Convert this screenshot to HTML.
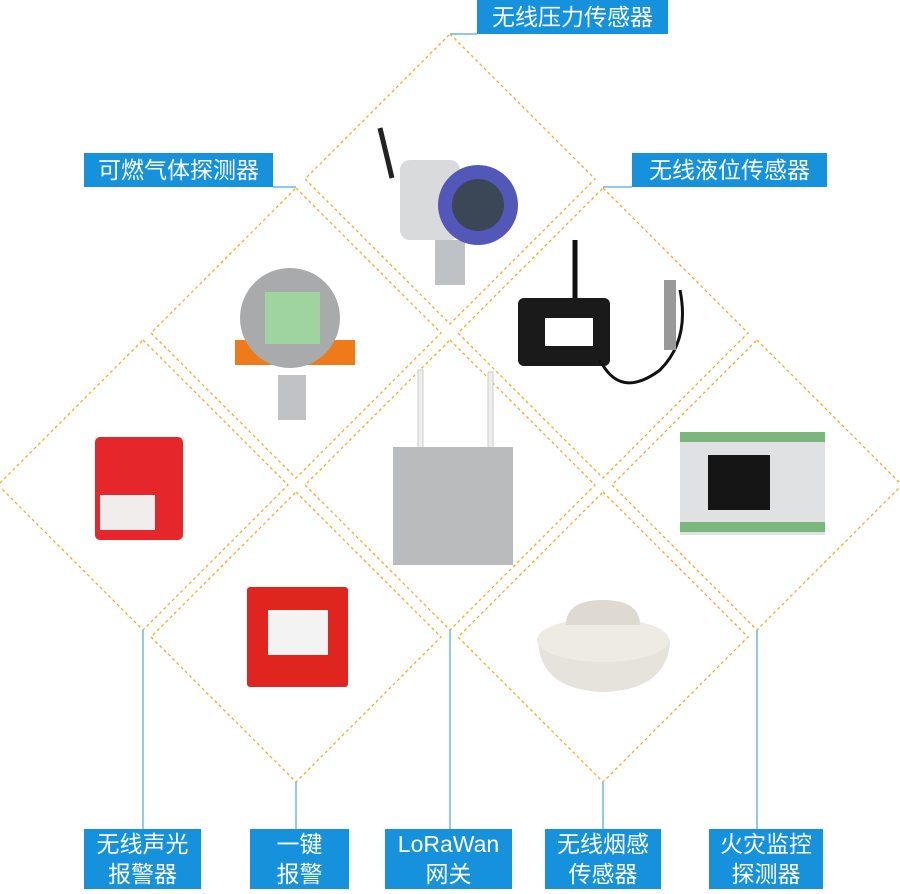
<!DOCTYPE html>
<html><head><meta charset="utf-8"><style>
body{margin:0;background:#fff;}
.l{position:absolute;background:#1592db;color:#fff;font-family:"Liberation Sans","Noto Sans CJK SC",sans-serif;font-size:23px;text-align:center;line-height:30px;}
</style></head><body>
<div style="position:relative;width:900px;height:894px;overflow:hidden">
<svg width="900" height="894" style="position:absolute;left:0;top:0">
<g fill="none" stroke="#f7a92b" stroke-width="1.3" stroke-dasharray="3,3">
<polygon points="450,34 595,179 450,324 305,179"/>
<polygon points="296,188 441,333 296,478 151,333"/>
<polygon points="603,188 748,333 603,478 458,333"/>
<polygon points="143,340 288,485 143,630 -2,485"/>
<polygon points="450,340 595,485 450,630 305,485"/>
<polygon points="757,340 902,485 757,630 612,485"/>
<polygon points="296,492 441,637 296,782 151,637"/>
<polygon points="603,492 748,637 603,782 458,637"/>
</g>
<g stroke="#4aa6e0" stroke-width="1.2">
<line x1="450" y1="34" x2="477" y2="34"/>
<line x1="273" y1="187" x2="296" y2="187"/>
<line x1="603" y1="187" x2="632" y2="187"/>
<line x1="143" y1="630" x2="143" y2="829"/>
<line x1="296" y1="782" x2="296" y2="829"/>
<line x1="450" y1="630" x2="450" y2="829"/>
<line x1="603" y1="782" x2="603" y2="829"/>
<line x1="757" y1="630" x2="757" y2="829"/>
</g>
<!-- pressure sensor -->
<path d="M380 128 L392 178" stroke="#222" stroke-width="5"/>
<rect x="400" y="160" width="60" height="80" rx="10" fill="#d8dadc"/>
<rect x="435" y="240" width="30" height="45" fill="#bfc2c5"/>
<circle cx="478" cy="205" r="40" fill="#5257b8"/><circle cx="478" cy="205" r="26" fill="#3b4657"/>
<!-- gas detector -->
<rect x="235" y="340" width="120" height="25" fill="#ee7a1a"/>
<circle cx="290" cy="318" r="50" fill="#a8aaac"/><rect x="265" y="292" width="55" height="52" fill="#9fd4a0"/>
<rect x="278" y="375" width="28" height="45" fill="#c0c2c4"/>
<!-- liquid -->
<line x1="575" y1="240" x2="575" y2="300" stroke="#111" stroke-width="5"/>
<rect x="518" y="298" width="92" height="68" rx="6" fill="#1a1a1a"/><rect x="545" y="318" width="48" height="28" fill="#fff"/>
<path d="M600 360 Q620 400 660 370 Q690 340 680 290" fill="none" stroke="#111" stroke-width="3"/>
<rect x="664" y="280" width="12" height="70" fill="#999"/>
<!-- fire light -->
<rect x="95" y="437" width="88" height="103" rx="5" fill="#e5262b"/><rect x="100" y="495" width="55" height="35" fill="#f2eded"/>
<!-- gateway -->
<rect x="418" y="370" width="5" height="85" fill="#eee" stroke="#ccc"/><rect x="488" y="372" width="5" height="85" fill="#eee" stroke="#ccc"/>
<rect x="393" y="447" width="120" height="118" fill="#b9bbbd"/>
<!-- controller -->
<rect x="680" y="432" width="145" height="103" fill="#dfe1e3"/><rect x="708" y="455" width="62" height="55" fill="#151515"/>
<rect x="680" y="432" width="145" height="10" fill="#7bb77d"/><rect x="680" y="522" width="145" height="10" fill="#7bb77d"/>
<!-- button -->
<rect x="247" y="587" width="101" height="100" rx="3" fill="#e0251f"/><rect x="268" y="610" width="60" height="45" fill="#f3f3f3"/>
<!-- smoke -->
<path d="M538 640 Q540 690 603 692 Q668 690 670 640 Z" fill="#e6e3dc"/>
<ellipse cx="603" cy="640" rx="66" ry="22" fill="#eeebe4"/>
<path d="M566 625 Q566 600 603 600 Q640 600 640 625 Z" fill="#dedad2"/>
</svg>
<div class="l" style="left:477px;top:0;width:191px;height:34px;line-height:34px">无线压力传感器</div>
<div class="l" style="left:84px;top:153px;width:189px;height:34px;line-height:34px">可燃气体探测器</div>
<div class="l" style="left:632px;top:153px;width:195px;height:34px;line-height:34px">无线液位传感器</div>
<div class="l" style="left:84px;top:829px;width:117px;height:60px">无线声光<br>报警器</div>
<div class="l" style="left:250px;top:829px;width:99px;height:60px">一键<br>报警</div>
<div class="l" style="left:385px;top:829px;width:127px;height:60px">LoRaWan<br>网关</div>
<div class="l" style="left:545px;top:829px;width:116px;height:60px">无线烟感<br>传感器</div>
<div class="l" style="left:709px;top:829px;width:114px;height:60px">火灾监控<br>探测器</div>
</div>
</body></html>
